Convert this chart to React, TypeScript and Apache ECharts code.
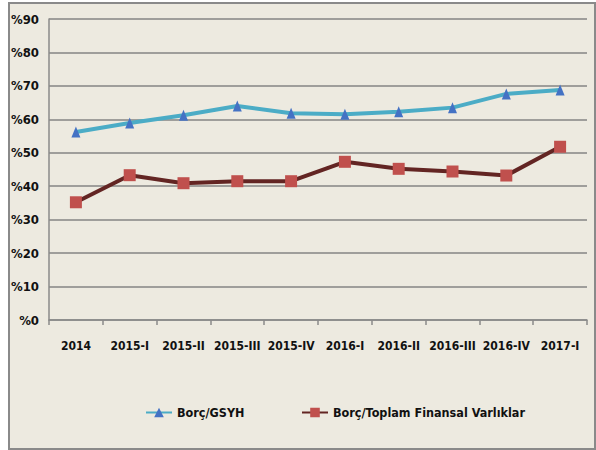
import React, { useEffect, useRef } from "react";
import * as echarts from "echarts";

const categories = ["2014", "2015-I", "2015-II", "2015-III", "2015-IV", "2016-I", "2016-II", "2016-III", "2016-IV", "2017-I"];
const borcGsyh = [56.2, 58.9, 61.2, 64.0, 61.8, 61.5, 62.3, 63.5, 67.6, 68.8];
const borcVarlik = [35.2, 43.3, 40.9, 41.5, 41.5, 47.3, 45.2, 44.4, 43.2, 51.8];
const yTicks = [0, 10, 20, 30, 40, 50, 60, 70, 80, 90];
const seriesNames = ["Borç/GSYH", "Borç/Toplam Finansal Varlıklar"];

const FONT = "'DejaVu Sans Condensed', 'Liberation Sans Narrow', sans-serif";

export default function App() {
  const ref = useRef<HTMLDivElement>(null);
  useEffect(() => {
    document.body.style.margin = "0";
    const chart = echarts.init(ref.current!, null, { renderer: "svg" });
    const legendBase = {
      top: 401,
      itemWidth: 26,
      itemHeight: 12,
      itemGap: 4,
      textStyle: { fontFamily: FONT, fontWeight: "bold", fontSize: 12.5, color: "#111" },
    };
    chart.setOption({
      animation: false,
      backgroundColor: "#ffffff",
      graphic: [
        {
          type: "rect",
          z: -10,
          shape: { x: 9, y: 3, width: 586, height: 446 },
          style: { fill: "#EDEAE0", stroke: "#8A8A8A", lineWidth: 2 },
        },
      ],
      grid: { left: 49, right: 9, top: 19, bottom: 130 },
      legend: [
        { ...legendBase, left: 140, data: [seriesNames[0]] },
        { ...legendBase, left: 296, data: [seriesNames[1]] },
      ],
      xAxis: {
        type: "category",
        data: categories,
        boundaryGap: true,
        axisLine: { lineStyle: { color: "#8A8A8A", width: 1.5 } },
        axisTick: { show: true, length: 5, lineStyle: { color: "#8A8A8A", width: 1.5 } },
        axisLabel: { interval: 0, margin: 20, fontFamily: FONT, fontWeight: "bold", fontSize: 12, color: "#111" },
      },
      yAxis: {
        type: "value",
        min: 0,
        max: 90,
        interval: 10,
        axisLine: { show: true, lineStyle: { color: "#8A8A8A", width: 1.5 } },
        axisTick: { show: false },
        splitLine: { lineStyle: { color: "#858585", width: 1.5 } },
        axisLabel: {
          margin: 10,
          fontFamily: FONT,
          fontWeight: "bold",
          fontSize: 13,
          color: "#111",
          formatter: (v: number) => (yTicks.includes(v) ? "%" + v : ""),
        },
      },
      series: [
        {
          name: seriesNames[0],
          type: "line",
          data: borcGsyh,
          symbol: "triangle",
          symbolSize: [9, 11],
          lineStyle: { color: "#4BACC6", width: 4 },
          itemStyle: { color: "#4472C4" },
          z: 3,
        },
        {
          name: seriesNames[1],
          type: "line",
          data: borcVarlik,
          symbol: "rect",
          symbolSize: 12,
          lineStyle: { color: "#632523", width: 4 },
          itemStyle: { color: "#C0504D" },
          z: 3,
        },
      ],
    });
    return () => chart.dispose();
  }, []);
  return <div ref={ref} style={{ position: "absolute", left: 0, top: 0, width: 596, height: 450 }} />;
}
